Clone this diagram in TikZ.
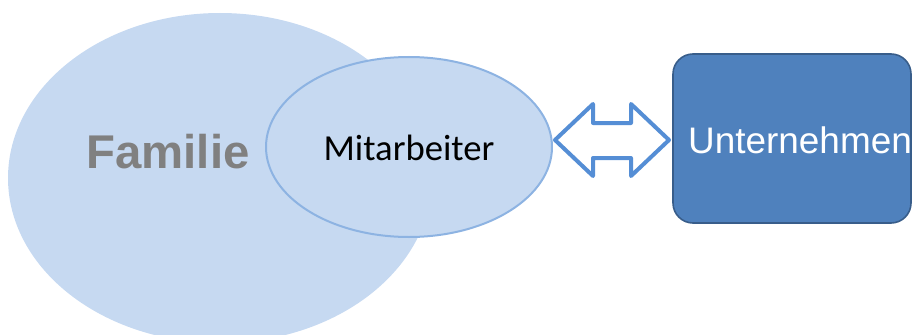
\documentclass[tikz,border=0pt]{standalone}
\usepackage{fontspec}
\usepackage{xcolor}
\setmainfont{Liberation Sans}
\newfontfamily\calfont{Carlito}
\definecolor{famfill}{HTML}{C6D9F1}
\definecolor{mitline}{HTML}{8DB3E2}
\definecolor{arrline}{HTML}{558ED5}
\definecolor{unfill}{HTML}{4F81BD}
\definecolor{unline}{HTML}{385D8A}

\begin{document}
\begin{tikzpicture}[x=0.75pt,y=-0.75pt]
\useasboundingbox (0,0) rectangle (913,335);
\clip (0,0) rectangle (913,335);
\fill [famfill] (220,178) ellipse (212 and 165);
\node (fam) at (168,152) {\fontsize{35.5}{40}\selectfont\bfseries\color{gray} Familie};
\draw [mitline, line width=1.5pt, fill=famfill] (409,147) ellipse (143 and 90);
\node [text=black] (mit) at (409,148) {\calfont\fontsize{27.5}{32}\selectfont Mitarbeiter};
\draw [arrline, line width=3pt, line join=round, fill=white] (555,140) -- (593,104) -- (593,123) -- (631,123) -- (631,104) -- (669,140) -- (631,176) -- (631,158) -- (593,158) -- (593,176) -- cycle;
\draw [unline, line width=1.2pt, fill=unfill, rounded corners=15pt] (673,54) rectangle (911,223);
\node (unt) at (800,140) {\fontsize{27.7}{32}\selectfont\color{white} Unternehmen};
\end{tikzpicture}
\end{document}
